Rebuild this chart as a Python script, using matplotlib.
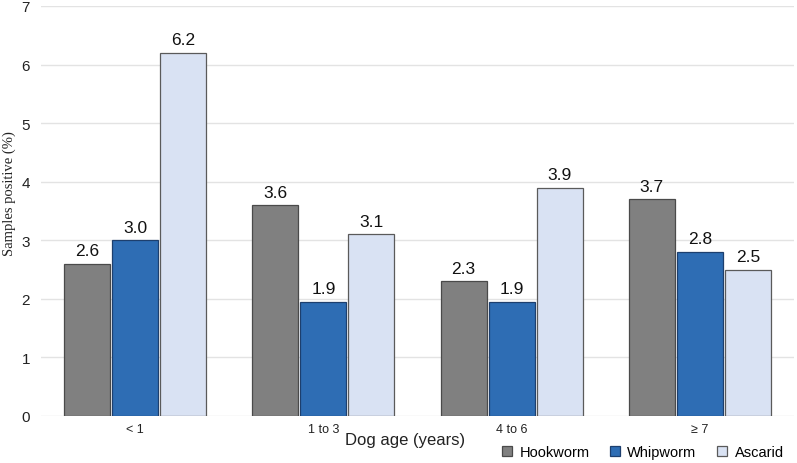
import matplotlib
matplotlib.use("Agg")
import matplotlib.pyplot as plt
import numpy as np

plt.rcParams["font.family"] = ["Liberation Sans", "DejaVu Sans"]

categories = ["< 1", "1 to 3", "4 to 6", "\u2265 7"]
series_names = ["Hookworm", "Whipworm", "Ascarid"]
hookworm = [2.6, 3.6, 2.3, 3.7]
whipworm = [3.0, 1.95, 1.95, 2.8]
ascarid = [6.2, 3.1, 3.9, 2.5]
hookworm_labels = ["2.6", "3.6", "2.3", "3.7"]
whipworm_labels = ["3.0", "1.9", "1.9", "2.8"]
ascarid_labels = ["6.2", "3.1", "3.9", "2.5"]

fills = ["#808080", "#2E6DB4", "#D9E2F3"]
edges = ["#4a4a4a", "#1d3f6e", "#5a5a5a"]

fig = plt.figure(figsize=(7.97, 4.64), dpi=100)
ax = fig.add_axes([41/797, 1-417/464, 753/797, 410/464])

x = np.arange(len(categories))
w = 0.244
gap = 0.011
offsets = [-(w+gap), 0, (w+gap)]
data = [hookworm, whipworm, ascarid]
labels = [hookworm_labels, whipworm_labels, ascarid_labels]
for i in range(3):
    bars = ax.bar(x + offsets[i], data[i], width=w, color=fills[i], edgecolor=edges[i],
                  linewidth=0.9, label=series_names[i], zorder=3)
    ax.bar_label(bars, labels=labels[i], padding=4, fontsize=12.5, color="#111111")

ax.set_xlim(-0.5, len(categories) - 0.5)
ax.set_ylim(0, 7)
ax.set_yticks(range(0, 8))
ax.grid(axis="y", color="#e3e3e3", linewidth=1, zorder=0)
ax.set_axisbelow(True)
for s in ax.spines.values():
    s.set_visible(False)
ax.tick_params(axis="both", length=0)
ax.tick_params(axis="y", labelsize=11, pad=8, colors="#222222")
ax.set_xticks(x)
ax.set_xticklabels(categories, fontsize=9, color="#222222")
ax.tick_params(axis="x", pad=5)

fig.text(0.508, 1-441/464, "Dog age (years)", ha="center", va="center", fontsize=12, color="#222222")
fig.text(9/797, 1-194/464, "Samples positive (%)", rotation=90, ha="center", va="center",
         fontsize=10.5, family="Liberation Serif", color="#222222")

handles, lbls = ax.get_legend_handles_labels()
fig.legend(handles, lbls, loc="center right", bbox_to_anchor=(791/797, 1-453/464), ncol=3, frameon=False,
           fontsize=10.5, handlelength=0.7, handleheight=0.7, handletextpad=0.5, columnspacing=1.4,
           borderpad=0)

fig.savefig("out.png", dpi=100)
